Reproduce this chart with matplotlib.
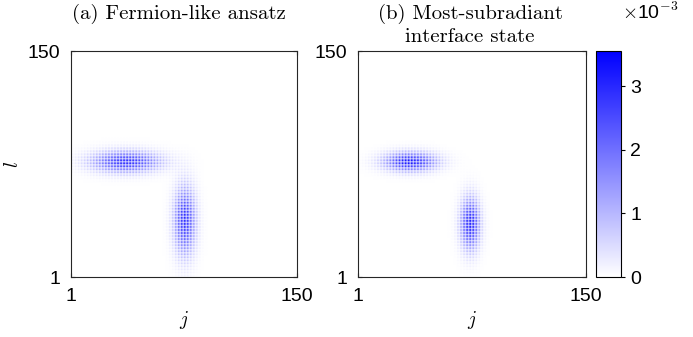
import numpy as np
import matplotlib
matplotlib.use("Agg")
import matplotlib.pyplot as plt
from matplotlib.colors import LinearSegmentedColormap

plt.rcParams['font.family'] = ['Liberation Sans', 'DejaVu Sans']
plt.rcParams['mathtext.fontset'] = 'cm'

N = 150
tick_vals = [1, 150]
cbar_ticks = [0, 1, 2, 3]
vmax = 3.55

# blob parameters: [horizontal arm, vertical arm]
titles = ["(a) Fermion-like ansatz", "(b) Most-subradiant\ninterface state"]
title_x = [179, 470]
center_j = [[37, 76], [35, 74]]
center_l = [[77, 38], [77, 36]]
sigma_j = [[15, 4.8], [11.5, 4.3]]
sigma_l = [[4.8, 15], [4.3, 11.5]]
peak = [[3.3, 3.3], [3.55, 3.55]]  # x 1e-3
stripe = [0.3, 0.3]


def build_field(k):
    j = np.arange(1, N + 1)
    jj, ll = np.meshgrid(j, j)
    z = np.zeros((N, N))
    for cj, cl, sj, sl, p in zip(center_j[k], center_l[k], sigma_j[k], sigma_l[k], peak[k]):
        z += p * np.exp(-0.5 * ((jj - cj) / sj) ** 2 - 0.5 * ((ll - cl) / sl) ** 2)
    s = stripe[k]
    mod = (1 - s + s * (-1.0) ** jj) * (1 - s + s * (-1.0) ** ll)
    return z * mod


cmap = LinearSegmentedColormap.from_list("wb", [(1, 1, 1), (0, 0, 1)])

fig = plt.figure(figsize=(6.93, 3.37), dpi=100)
axes = [fig.add_axes([71 / 693, 60 / 337, 226 / 693, 226 / 337]),
        fig.add_axes([358 / 693, 60 / 337, 228 / 693, 226 / 337])]

for k, ax in enumerate(axes):
    z = build_field(k)
    im = ax.imshow(z, cmap=cmap, vmin=0, vmax=vmax, origin='lower',
                   extent=[0.5, N + 0.5, 0.5, N + 0.5], interpolation='antialiased', aspect='auto')
    ax.set_xlim(1, N)
    ax.set_ylim(1, N)
    ax.set_xticks(tick_vals)
    ax.set_yticks(tick_vals)
    ax.tick_params(direction='in', length=3, labelsize=14, top=True, right=True, pad=8)
    for sp in ax.spines.values():
        sp.set_linewidth(0.8)
        sp.set_color('#262626')
    ax.set_xlabel(r'$j$', fontsize=14, labelpad=3)
    fig.text(title_x[k] / 693, 1 - 4 / 337, titles[k], fontfamily='cmr10', fontsize=15,
             ha='center', va='top', linespacing=1.3)

axes[0].set_ylabel(r'$l$', fontsize=14, labelpad=4)

cax = fig.add_axes([596 / 693, 60 / 337, 25 / 693, 226 / 337])
cb = fig.colorbar(im, cax=cax, ticks=cbar_ticks)
cb.ax.tick_params(labelsize=14, length=3, direction='out')
cb.outline.set_linewidth(0.8)
fig.text(622 / 693, 1 - 12 / 337, r'$\times$10$^{\mathsf{-3}}$', fontsize=14, ha='left', va='center')

fig.savefig("out.png", dpi=100)
